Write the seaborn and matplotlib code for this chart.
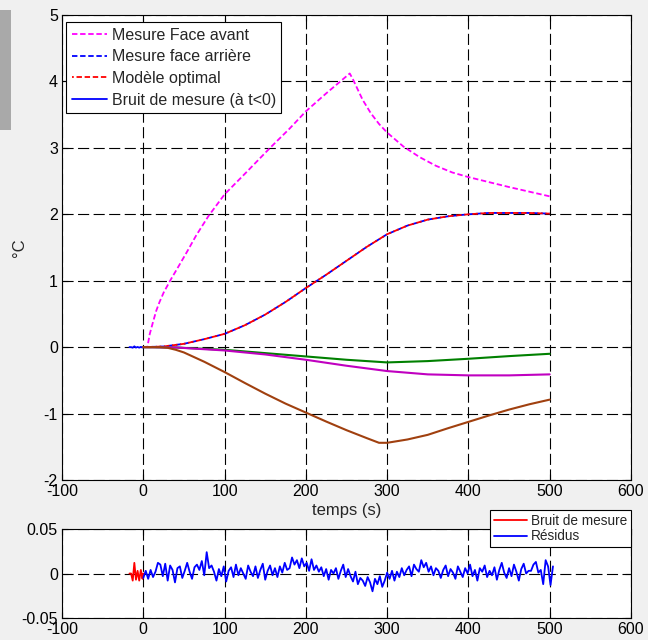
import numpy as np
import pandas as pd
import matplotlib
matplotlib.use("Agg")
import matplotlib.pyplot as plt
from matplotlib.patches import Rectangle
import seaborn as sns

# ---------------- data ----------------
t_front = [0, 5, 8, 12, 16, 20, 25, 33, 45, 54, 65, 80, 100, 125, 156, 180, 200, 225, 254,
           258, 263, 270, 280, 290, 300, 320, 340, 360, 380, 400, 450, 500]
front = [0, 0.0, 0.2, 0.38, 0.55, 0.68, 0.82, 1.0, 1.25, 1.44, 1.68, 1.97, 2.3, 2.61, 3.0,
         3.29, 3.55, 3.82, 4.12,
         4.03, 3.90, 3.72, 3.52, 3.36, 3.23, 3.02, 2.86, 2.73, 2.63, 2.56, 2.41, 2.27]

t_rear = [0, 25, 50, 75, 100, 125, 150, 175, 200, 225, 250, 275, 300, 325, 350, 375,
          400, 425, 450, 475, 500]
rear = [0, 0.01, 0.05, 0.12, 0.20, 0.33, 0.49, 0.68, 0.89, 1.09, 1.30, 1.51, 1.70, 1.83,
        1.92, 1.97, 2.00, 2.02, 2.02, 2.02, 2.01]
model = [0, 0.01, 0.05, 0.12, 0.20, 0.33, 0.49, 0.68, 0.89, 1.09, 1.30, 1.51, 1.70, 1.83,
         1.92, 1.97, 2.00, 2.02, 2.02, 2.02, 2.01]

t_sens = [0, 40, 100, 150, 200, 250, 300, 350, 400, 450, 500]
green = [0, -0.005, -0.04, -0.09, -0.14, -0.19, -0.23, -0.21, -0.175, -0.135, -0.10]
purple = [0, -0.005, -0.05, -0.11, -0.19, -0.28, -0.36, -0.41, -0.425, -0.425, -0.41]

t_brown = [0, 20, 30, 40, 50, 75, 100, 125, 150, 175, 200, 225, 250, 275, 290, 300, 325,
           350, 375, 400, 425, 450, 475, 500]
brown = [0, 0, -0.01, -0.04, -0.08, -0.22, -0.375, -0.54, -0.70, -0.85, -0.985, -1.12, -1.25,
         -1.37, -1.44, -1.44, -1.39, -1.32, -1.22, -1.125, -1.03, -0.94, -0.86, -0.79]

t_noise = [-17, -15, -13, -11, -9, -7, -5, -3, -1, 0]
noise = [0.0, 0.0, -0.008, 0.012, -0.007, 0.003, -0.008, 0.004, -0.006, 0.0]

res_step = 3
residuals = [
    -0.005, 0.003, -0.006, 0.004, -0.004, 0.002,
    0.012, 0.010, -0.003, 0.011, -0.008, 0.009, 0.004, -0.010, 0.006, 0.008, -0.005, 0.003,
    0.012, 0.002, -0.006, 0.007,
    0.010, 0.004, 0.014, -0.002, 0.024, 0.006, 0.009, 0.002, -0.008, 0.005, -0.003, 0.008,
    -0.009, 0.003, 0.007, -0.004, 0.010, -0.002, 0.006, 0.000, -0.006, 0.009, 0.002, -0.003,
    0.008, -0.005, 0.004, 0.011,
    -0.007, 0.003, 0.009, -0.002, 0.006, -0.004, 0.008, 0.001, 0.012, 0.004, 0.006,
    0.018, 0.010, 0.015, 0.006, 0.017, 0.008, 0.012, 0.003, 0.016, 0.004, 0.009,
    0.002, 0.007, -0.003, 0.005, -0.007, 0.004, 0.000, 0.006, -0.006, 0.003, 0.010, -0.004, 0.005,
    -0.003, -0.009, 0.002, -0.012, -0.005, -0.008, -0.014, -0.004, -0.010, -0.020, -0.006,
    -0.012, -0.003, -0.015, -0.008, 0.001,
    -0.006, 0.003, -0.008, 0.002, -0.004, 0.006, -0.002, 0.004, 0.008, -0.003, 0.010, 0.005,
    0.002, 0.015,
    0.007, 0.012, 0.002, 0.008, -0.002, 0.006, 0.003, -0.005, 0.004, 0.009, -0.003, 0.005,
    0.001, -0.006, 0.008, 0.002, -0.004, 0.006, 0.000,
    0.010, -0.003, 0.004, -0.008, 0.006, 0.002, 0.009, -0.004, 0.003, -0.002, 0.007, -0.007,
    0.004, 0.012, 0.001, -0.005,
    0.006, -0.003, 0.010, 0.002, -0.008, 0.005, 0.011, 0.000, 0.003, 0.003, 0.010, 0.013,
    0.001, 0.004, -0.012, 0.015, 0.008, -0.013, 0.008,
]
t_res = list(np.arange(len(residuals)) * res_step)

labels_main = ["Mesure Face avant", "Mesure face arrière", "Modèle optimal",
               "Bruit de mesure (à t<0)"]
labels_res = ["Bruit de mesure", "Résidus"]
xticks = [-100, 0, 100, 200, 300, 400, 500, 600]
yticks_main = [-2, -1, 0, 1, 2, 3, 4, 5]
yticks_res = [-0.05, 0, 0.05]
yticklabels_res = ["-0.05", "0", "0.05"]

# ---------------- style ----------------
sns.set_style("white")
plt.rcParams["font.family"] = ["Liberation Sans", "DejaVu Sans"]
plt.rcParams["axes.unicode_minus"] = False

fig = plt.figure(figsize=(6.48, 6.40), dpi=100, facecolor="#f0f0f0")
ax = fig.add_axes([62 / 648, 1 - 480 / 640, (631 - 62) / 648, (480 - 15) / 640])
ax2 = fig.add_axes([62 / 648, 1 - 618 / 640, (631 - 62) / 648, (618 - 529) / 640])

# odd gray strip at left edge of reference
fig.patches.append(Rectangle((0, 1 - 130 / 640), 11 / 648, 120 / 640,
                             transform=fig.transFigure, facecolor="#a9a9a9",
                             edgecolor="none", zorder=0))


def style_axes(a, yticks, ylim):
    a.set_facecolor("white")
    a.set_xlim(-100, 600)
    a.set_ylim(*ylim)
    a.set_xticks(xticks)
    a.set_yticks(yticks)
    a.grid(True, color="black", linestyle=(0, (10, 4)), linewidth=0.8)
    a.set_axisbelow(True)
    for s in a.spines.values():
        s.set_visible(True)
        s.set_color("black")
        s.set_linewidth(0.8)
    a.tick_params(direction="in", length=4, labelsize=11.5, top=True, right=True,
                  bottom=True, left=True, colors="black", pad=3)


# main axes
sns.lineplot(x=t_front, y=front, ax=ax, color="#ff00ff", linestyle=(0, (3, 1.5)),
             linewidth=1.3, label=labels_main[0], sort=False)
sns.lineplot(x=t_rear, y=rear, ax=ax, color="#0000ff", linestyle=(0, (3, 1.5)),
             linewidth=1.3, label=labels_main[1], sort=False)
sns.lineplot(x=t_rear, y=model, ax=ax, color="#ff0000", linestyle=(2, (3, 1.5)),
             linewidth=1.3, label=labels_main[2], sort=False)
sns.lineplot(x=t_noise, y=noise, ax=ax, color="#0000ff", linestyle="-",
             linewidth=1.3, label=labels_main[3], sort=False)
sns.lineplot(x=t_sens, y=green, ax=ax, color="#008000", linewidth=1.5, sort=False)
sns.lineplot(x=t_sens, y=purple, ax=ax, color="#c000c0", linewidth=1.5, sort=False)
sns.lineplot(x=t_brown, y=brown, ax=ax, color="#a0400f", linewidth=1.5, sort=False)

style_axes(ax, yticks_main, (-2, 5))
ax.set_xlabel("temps (s)", fontsize=12, labelpad=3)
ax.set_ylabel("°C", fontsize=12, labelpad=12)
h, l = ax.get_legend_handles_labels()
ax.legend(h, l, loc="upper left", bbox_to_anchor=(0.007, 0.985), borderaxespad=0,
          fontsize=11.5, frameon=True, fancybox=False, framealpha=1, edgecolor="black",
          handlelength=2.2, handletextpad=0.3, labelspacing=0.42, borderpad=0.35)
ax.get_legend().get_frame().set_linewidth(0.8)

# residual axes
sns.lineplot(x=t_noise, y=noise, ax=ax2, color="#ff0000", linewidth=1.3,
             label=labels_res[0], sort=False)
sns.lineplot(x=t_res, y=residuals, ax=ax2, color="#0000ff", linewidth=1.3,
             label=labels_res[1], sort=False)
style_axes(ax2, yticks_res, (-0.05, 0.05))
ax2.set_yticklabels(yticklabels_res)
ax2.set_xlabel("")
ax2.set_ylabel("")
h2, l2 = ax2.get_legend_handles_labels()
ax2.legend(h2, l2, loc="upper right", bbox_to_anchor=(1.0, 1.215), borderaxespad=0,
           fontsize=9.8, frameon=True, fancybox=False, framealpha=1, edgecolor="black",
           handlelength=2.4, handletextpad=0.3, labelspacing=0.1, borderpad=0.3)
ax2.get_legend().get_frame().set_linewidth(0.8)

fig.savefig("out.png", dpi=100, facecolor=fig.get_facecolor())
